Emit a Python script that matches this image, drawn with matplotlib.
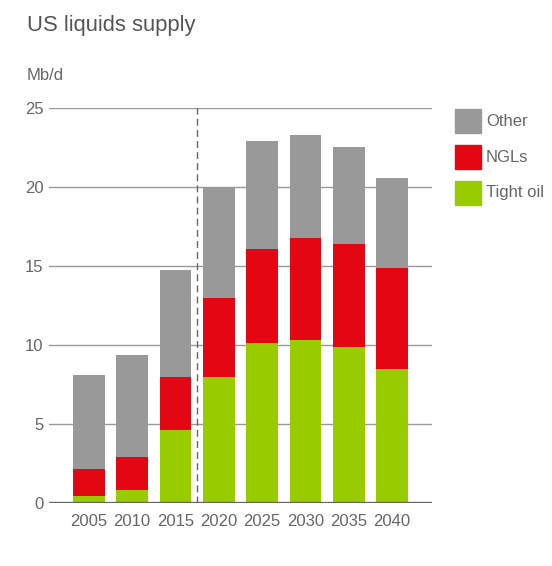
import matplotlib
matplotlib.use("Agg")
import matplotlib.pyplot as plt
from matplotlib.patches import Rectangle
import numpy as np

plt.rcParams['font.family'] = ['Liberation Sans', 'DejaVu Sans']

years = ["2005", "2010", "2015", "2020", "2025", "2030", "2035", "2040"]
tight_oil = [0.42, 0.80, 4.60, 7.97, 10.12, 10.32, 9.87, 8.45]
ngls = [1.71, 2.08, 3.35, 5.00, 5.95, 6.45, 6.55, 6.45]
other = [5.95, 6.50, 6.80, 7.03, 6.85, 6.55, 6.10, 5.70]
series_names = ["Other", "NGLs", "Tight oil"]
colors = {"Tight oil": "#99CC00", "NGLs": "#E30613", "Other": "#999999"}
yticks = [0, 5, 10, 15, 20, 25]

TXT = "#666666"

fig = plt.figure(figsize=(5.52, 5.66), dpi=100)
ax = fig.add_axes([49/552, 1-503/566, (432-49)/552, (503-108)/566])

x = np.arange(len(years))
w = 0.73
ax.bar(x, tight_oil, w, color=colors["Tight oil"], zorder=3)
ax.bar(x, ngls, w, bottom=tight_oil, color=colors["NGLs"], zorder=3)
bot2 = np.array(tight_oil) + np.array(ngls)
ax.bar(x, other, w, bottom=bot2, color=colors["Other"], zorder=3)

ax.set_xlim(-0.92, len(years) - 1 + 0.92)
ax.set_ylim(0, 25)
for v in yticks[1:]:
    ax.axhline(v, color="#999999", lw=1, zorder=1)
ax.axhline(0, color="#666666", lw=2.4, zorder=4)
ax.plot([2.5, 2.5], [0, 25], color="#666666", lw=1, ls=(0, (5, 3)), zorder=2)

ax.set_yticks(yticks)
ax.set_yticklabels([str(v) for v in yticks])
ax.set_xticks(x)
ax.set_xticklabels(years)
ax.tick_params(axis='both', length=0, labelsize=12, colors=TXT)
ax.tick_params(axis='y', pad=4)
ax.tick_params(axis='x', pad=8)
for s in ax.spines.values():
    s.set_visible(False)

fig.text(27/552, 1-26/566, "US liquids supply", fontsize=15.8, color="#555555", va='center', ha='left')
fig.text(27/552, 1-75/566, "Mb/d", fontsize=12, color=TXT, va='center', ha='left')

# legend
for i, name in enumerate(series_names):
    ytop = 109 + i * 36
    fig.add_artist(Rectangle((455/552, 1-(ytop+24)/566), 26/552, 24/566,
                             transform=fig.transFigure, color=colors[name]))
    fig.text(486/552, 1-(ytop+12)/566, name, fontsize=12, color=TXT, va='center', ha='left')

fig.savefig("out.png", dpi=100)
